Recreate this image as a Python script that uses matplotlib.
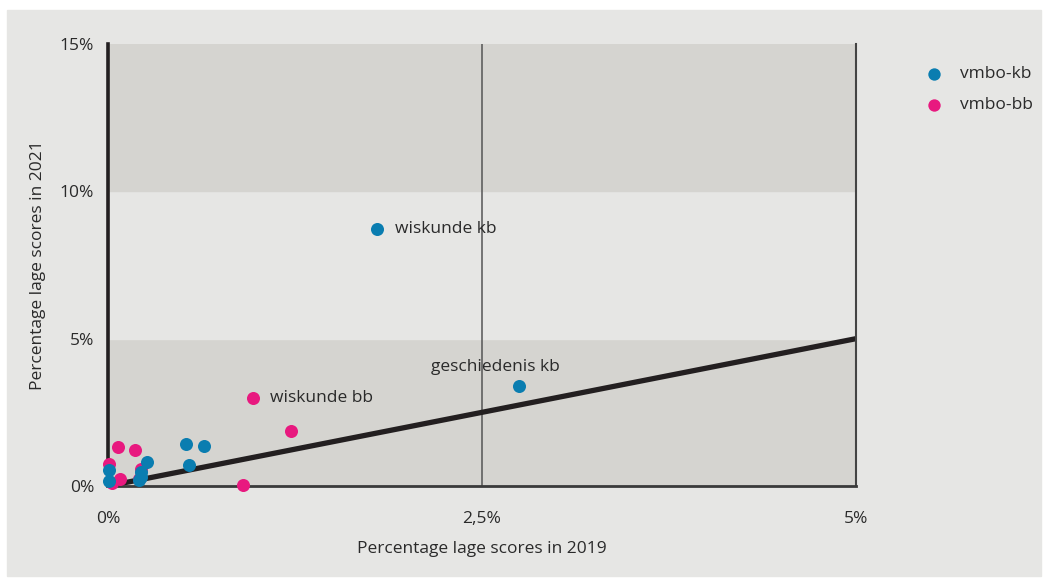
import matplotlib.pyplot as plt
from matplotlib.patches import Rectangle

plt.rcParams['font.family'] = ['Open Sans', 'DejaVu Sans']

# percentages (2019, 2021)
kb_x = [0.01, 0.01, 0.26, 0.22, 0.21, 0.22, 0.52, 0.64, 0.54, 1.80, 2.75]
kb_y = [0.54, 0.18, 0.83, 0.48, 0.20, 0.30, 1.43, 1.36, 0.71, 8.72, 3.39]
bb_x = [0.01, 0.03, 0.08, 0.065, 0.18, 0.22, 0.21, 0.90, 0.97, 1.22]
bb_y = [0.74, 0.09, 0.23, 1.32, 1.21, 0.56, 0.25, 0.03, 2.99, 1.87]

blue = '#0a7db0'
pink = '#e8197f'
txt = '#2a2a2a'

fig = plt.figure(figsize=(10.49, 5.79), dpi=100, facecolor='white')
bg = Rectangle((7 / 1049, 3 / 579), 1034 / 1049, 566 / 579,
               transform=fig.transFigure, color='#e6e6e4', zorder=-10)
fig.add_artist(bg)
ax = fig.add_axes([108 / 1049, 93 / 579, 748 / 1049, 442 / 579])
ax.set_xlim(0, 5)
ax.set_ylim(0, 15)
ax.set_facecolor('#e6e6e4')

# horizontal bands
ax.axhspan(0, 5, color='#d5d4d0', zorder=0)
ax.axhspan(5, 10, color='#e6e6e4', zorder=0)
ax.axhspan(10, 15, color='#d5d4d0', zorder=0)

ax.axvline(2.5, color='#555555', lw=1.1, zorder=1)
ax.plot([0, 5], [0, 5], color='#231f20', lw=3.8, zorder=2, solid_capstyle='butt')

# blue dots sit on top of the pink ones
ax.scatter(kb_x, kb_y, s=88, color=blue, zorder=5, label='vmbo-kb', linewidths=0, clip_on=False)
ax.scatter(bb_x, bb_y, s=88, color=pink, zorder=4, label='vmbo-bb', linewidths=0, clip_on=False)

ax.text(1.80 + 0.12, 8.72, "wiskunde kb", va='center', ha='left', fontsize=12.5, color=txt)
ax.text(2.75 - 0.16, 3.39 + 0.65, "geschiedenis kb", va='center', ha='center', fontsize=12.5, color=txt)
ax.text(0.97 + 0.11, 2.99, "wiskunde bb", va='center', ha='left', fontsize=12.5, color=txt)

ax.spines['top'].set_visible(False)
ax.spines['left'].set_linewidth(2.6)
ax.spines['left'].set_color('#231f20')
ax.spines['bottom'].set_linewidth(2)
ax.spines['bottom'].set_color('#3a3a3a')
ax.spines['right'].set_linewidth(1.5)
ax.spines['right'].set_color('#444444')

ax.set_xticks([0, 2.5, 5])
ax.set_xticklabels(['0%', '2,5%', '5%'])
ax.set_yticks([0, 5, 10, 15])
ax.set_yticklabels(['0%', '5%', '10%', '15%'])
ax.tick_params(length=0, labelsize=12.5, colors=txt)
ax.tick_params(axis='x', pad=18)
ax.tick_params(axis='y', pad=10)

ax.set_xlabel('Percentage lage scores in 2019', fontsize=12.5, color=txt, labelpad=10)
ax.set_ylabel('Percentage lage scores in 2021', fontsize=12.5, color=txt, labelpad=10)

leg = ax.legend(loc='upper left', bbox_to_anchor=(1.06, 0.985), frameon=False,
                fontsize=12.5, handletextpad=0.5, labelspacing=0.85, markerscale=0.95)
for t in leg.get_texts():
    t.set_color(txt)

fig.savefig('out.png', dpi=100, facecolor='white')
